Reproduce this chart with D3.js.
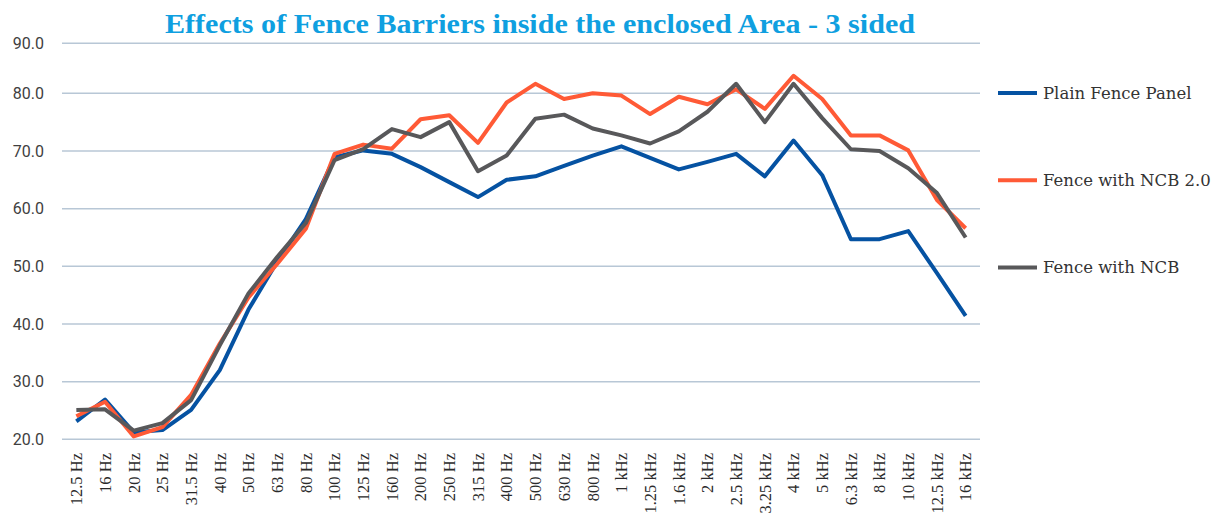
<!DOCTYPE html>
<html>
<head>
<meta charset="utf-8">
<script src="https://cdnjs.cloudflare.com/ajax/libs/d3/7.8.5/d3.min.js"></script>
<style>
  body { margin: 0; background: #fff; }
  .grid line { stroke: #b8c7d6; stroke-width: 1.5; }
  .series { fill: none; stroke-width: 4; stroke-linejoin: round; }
</style>
</head>
<body>
<div id="chart"></div>
<script>
// data
var categories = ["12.5 Hz","16 Hz","20 Hz","25 Hz","31.5 Hz","40 Hz","50 Hz","63 Hz","80 Hz","100 Hz",
  "125 Hz","160 Hz","200 Hz","250 Hz","315 Hz","400 Hz","500 Hz","630 Hz","800 Hz","1 kHz",
  "1.25 kHz","1.6 kHz","2 kHz","2.5 kHz","3.25 kHz","4 kHz","5 kHz","6.3 kHz","8 kHz","10 kHz",
  "12.5 kHz","16 kHz"];

var plainFence = [23.1, 26.9, 21.2, 21.6, 25.1, 32.0, 42.5, 50.8, 58.2, 68.9,
  70.1, 69.5, 67.2, 64.6, 62.0, 65.0, 65.6, 67.4, 69.2, 70.8,
  68.8, 66.8, 68.1, 69.5, 65.6, 71.8, 65.8, 54.7, 54.7, 56.1,
  48.8, 41.4];

var fenceNcb20 = [24.0, 26.5, 20.5, 22.1, 27.7, 36.6, 44.6, 50.4, 56.5, 69.5,
  71.1, 70.4, 75.5, 76.2, 71.4, 78.4, 81.9, 79.0, 80.0, 79.6,
  76.4, 79.4, 78.1, 80.8, 77.3, 83.5, 79.0, 72.7, 72.7, 70.1,
  61.5, 56.6];

var fenceNcb = [25.1, 25.2, 21.5, 22.8, 26.8, 36.3, 45.3, 51.6, 57.5, 68.4,
  70.3, 73.8, 72.4, 75.0, 66.5, 69.2, 75.6, 76.3, 73.9, 72.7,
  71.3, 73.4, 76.8, 81.9, 75.0, 81.9, 75.7, 70.3, 70.0, 67.0,
  62.7, 55.0];

var seriesNames = ["Plain Fence Panel", "Fence with NCB 2.0", "Fence with NCB"];
var seriesColors = ["#0552a2", "#ff5a36", "#58585a"];
var yTicks = [20, 30, 40, 50, 60, 70, 80, 90];

var width = 1214, height = 519;

var svg = d3.select("#chart").append("svg")
    .attr("width", width)
    .attr("height", height);

// x: one band per category, line points at band centres
var xScale = d3.scaleBand()
    .domain(categories)
    .range([62, 980])
    .padding(0);

// y: the top gridline sits closer to 80 than the others do
var yScale = d3.scaleLinear()
    .domain([20, 80, 90])
    .range([439.3, 93.3, 43.3]);

function cx(c) { return xScale(c) + xScale.bandwidth() / 2; }

// title
svg.append("text")
    .attr("x", 540)
    .attr("y", 33)
    .attr("text-anchor", "middle")
    .attr("textLength", 750)
    .attr("lengthAdjust", "spacingAndGlyphs")
    .style("font-family", "'Liberation Serif', serif")
    .style("font-weight", "bold")
    .style("font-size", "27px")
    .style("fill", "#0f9fe0")
    .text("Effects of Fence Barriers inside the enclosed Area - 3 sided");

// gridlines
svg.append("g")
    .attr("class", "grid")
    .selectAll("line")
    .data(yTicks)
    .enter().append("line")
    .attr("x1", 62)
    .attr("x2", 980)
    .attr("y1", function(d) { return yScale(d); })
    .attr("y2", function(d) { return yScale(d); });

// y axis labels
svg.append("g")
    .selectAll("text")
    .data(yTicks)
    .enter().append("text")
    .attr("x", 44)
    .attr("y", function(d) { return yScale(d); })
    .attr("dy", "0.35em")
    .attr("text-anchor", "end")
    .style("font-family", "Roboto, sans-serif")
    .style("font-size", "16px")
    .style("fill", "#404040")
    .text(function(d) { return d3.format(".1f")(d); });

// x axis labels, rotated
svg.append("g")
    .selectAll("text")
    .data(categories)
    .enter().append("text")
    .attr("transform", function(d) { return "translate(" + cx(d) + ",453) rotate(-90)"; })
    .attr("dy", "0.35em")
    .attr("text-anchor", "end")
    .style("font-family", "'Liberation Serif', serif")
    .style("font-size", "16.5px")
    .style("fill", "#2a2a2a")
    .text(function(d) { return d; });

// lines
var line = d3.line()
    .x(function(d, i) { return cx(categories[i]); })
    .y(function(d) { return yScale(d); });

var allSeries = [plainFence, fenceNcb20, fenceNcb];

svg.selectAll(".series")
    .data(allSeries)
    .enter().append("path")
    .attr("class", "series")
    .attr("stroke", function(d, i) { return seriesColors[i]; })
    .attr("d", line);

// legend
var legend = svg.selectAll(".legend")
    .data(seriesNames)
    .enter().append("g")
    .attr("class", "legend")
    .attr("transform", function(d, i) { return "translate(998," + (93 + i * 87.2) + ")"; });

legend.append("line")
    .attr("x1", 0)
    .attr("x2", 39)
    .attr("stroke", function(d, i) { return seriesColors[i]; })
    .attr("stroke-width", 4);

legend.append("text")
    .attr("x", 45)
    .attr("dy", "0.35em")
    .style("font-family", "'DejaVu Serif', serif")
    .style("font-size", "16.5px")
    .style("fill", "#333")
    .text(function(d) { return d; });
</script>
</body>
</html>
